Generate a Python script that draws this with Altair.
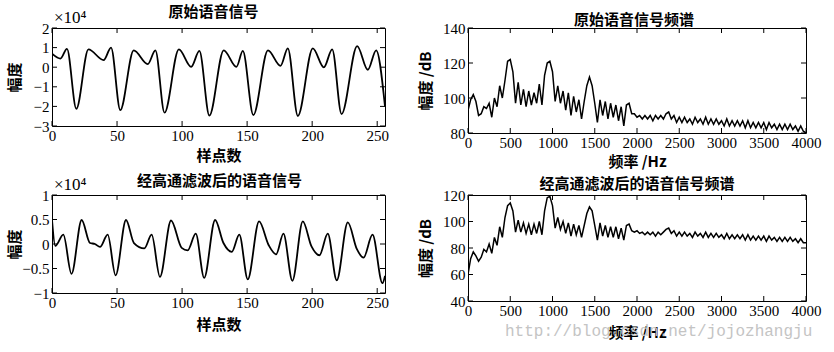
import altair as alt
import pandas as pd

# ---------------- data ----------------
# original speech signal (x1e4), key points
orig_n = [0, 6.5, 11.5, 18.7, 28, 39.7, 45.4, 52.5, 62.8, 73.6, 79.5, 86.5, 97.5, 107, 113.3,
          121, 132, 141.8, 146.7, 154.8, 166, 175.7, 181.3, 189, 200.5, 209, 215.4, 222.6,
          234.6, 242.8, 249.2, 256]
orig_v = [0.69, 0.44, 0.94, -2.12, 0.91, 0.36, 1.0, -2.19, 0.86, 0.16, 0.86, -2.32, 0.91, 0.02, 0.83,
          -2.47, 0.86, 0.02, 0.83, -2.44, 0.86, 0.07, 0.96, -2.49, 0.96, -0.01, 0.91, -2.39,
          1.08, -0.13, 0.86, -2.0]

# high-pass filtered speech signal (x1e4)
filt_n = [0, 2.5, 8.7, 15, 22.8, 29.2, 33, 36.9, 42.8, 48.9, 56.9, 63, 71, 76.6, 83, 91.5, 99.7,
          104.3, 110.5, 117, 125.4, 131.8, 138.2, 144, 150.5, 159.2, 166.5, 172.3, 177.9, 184.8,
          192.8, 199.5, 205.6, 212, 218.9, 227.4, 234.3, 239.5, 246.4, 254, 256]
filt_v = [0.5, -0.04, 0.19, -0.61, 0.49, 0.02, 0.0, -0.06, 0.19, -0.64, 0.49, 0.02, -0.09, 0.19,
          -0.67, 0.48, -0.08, -0.13, 0.21, -0.69, 0.49, 0.02, -0.16, 0.19, -0.72, 0.46, -0.02,
          -0.21, 0.21, -0.75, 0.46, -0.05, -0.23, 0.21, -0.74, 0.44, -0.1, -0.28, 0.19, -0.8, -0.65]

# spectra, one value per FFT bin (0 .. 4000 Hz)
spec_orig = [93, 99, 102, 98, 90, 91, 95, 94, 97, 89,
             100, 95, 107, 100, 110, 121, 122, 115, 97, 109,
             96, 105, 95, 104, 96, 103, 97, 108, 96, 113,
             120, 121, 115, 98, 107, 97, 104, 93, 103, 90,
             101, 92, 99, 88, 98, 107, 112, 107, 97, 86,
             99, 90, 98, 88, 97, 89, 96, 87, 95, 84,
             96, 97, 91, 91, 89, 90, 88, 90, 88, 90,
             87, 90, 88, 90, 88, 91, 92, 88, 90, 86,
             89, 86, 89, 86, 88, 85, 89, 86, 88, 85,
             89, 85, 88, 85, 88, 85, 87, 84, 88, 84,
             87, 84, 87, 84, 87, 83, 87, 83, 86, 83,
             86, 83, 86, 82, 86, 83, 85, 82, 85, 82,
             85, 82, 85, 82, 84, 81, 84, 81, 80]
spec_filt = [60, 72, 77, 74, 70, 73, 79, 77, 83, 76,
             88, 82, 96, 88, 103, 112, 114, 108, 92, 101,
             92, 99, 91, 98, 90, 98, 91, 100, 90, 108,
             118, 119, 112, 95, 103, 94, 100, 91, 99, 89,
             98, 90, 97, 88, 97, 106, 111, 108, 97, 86,
             99, 89, 97, 88, 96, 88, 96, 87, 95, 86,
             97, 98, 93, 92, 93, 91, 92, 90, 92, 90,
             92, 89, 92, 90, 92, 94, 95, 91, 93, 89,
             92, 89, 92, 89, 91, 88, 92, 89, 91, 88,
             92, 88, 91, 88, 91, 88, 90, 87, 91, 87,
             90, 87, 90, 87, 90, 86, 90, 86, 89, 86,
             89, 86, 89, 85, 89, 86, 88, 85, 88, 85,
             88, 85, 88, 85, 87, 84, 87, 84, 84]
freq_hz = [k * 31.25 for k in range(len(spec_orig))]

time_ticks = [0, 50, 100, 150, 200, 250]
freq_ticks = [0, 500, 1000, 1500, 2000, 2500, 3000, 3500, 4000]
orig_yticks = [-3, -2, -1, 0, 1, 2]
filt_yticks = [-1, -0.5, 0, 0.5, 1]
spec1_yticks = [80, 100, 120, 140]
spec2_yticks = [40, 60, 80, 100, 120]

SERIF = "Liberation Serif"
CJK = "Noto Sans CJK SC"


def panel(xs, ys, xdom, ydom, xticks, yticks, w, h, title, tdx, tdy, xtitle, ytitle,
          ytx, xty, sw, interp, mult=False, mark=None):
    df = pd.DataFrame({"x": xs, "y": ys})
    xsc = alt.Scale(domain=xdom, nice=False, zero=False)
    ysc = alt.Scale(domain=ydom, nice=False, zero=False)
    xax = alt.Axis(
        values=xticks, ticks=False, domain=False, grid=False, labelOverlap=False,
        format="~f", labelFont=SERIF, labelFontSize=15, labelColor="black", labelPadding=2,
        labelFlush=False, title=xtitle, titleFont=CJK, titleFontSize=15,
        titleFontWeight="bold", titleColor="black", titleY=xty, titleBaseline="middle")
    yax = alt.Axis(
        values=yticks, ticks=False, domain=False, grid=False, labelOverlap=False,
        format="~f", labelFont=SERIF, labelFontSize=15, labelColor="black", labelPadding=3,
        labelFlush=False, title=ytitle, titleFont=CJK, titleFontSize=15,
        titleFontWeight="bold", titleColor="black", titleX=ytx, titleBaseline="middle")
    line = alt.Chart(df).mark_line(color="black", strokeWidth=sw,
                                   interpolate=interp, clip=True).encode(
        x=alt.X("x:Q", scale=xsc, axis=xax),
        y=alt.Y("y:Q", scale=ysc, axis=yax),
    )
    xt = pd.DataFrame({"x": xticks})
    yt = pd.DataFrame({"y": yticks})
    tl = 5
    bot = alt.Chart(xt).mark_rule(color="black", strokeWidth=1).encode(
        x=alt.X("x:Q", scale=xsc, axis=xax), y=alt.value(h), y2=alt.value(h - tl))
    top = alt.Chart(xt).mark_rule(color="black", strokeWidth=1).encode(
        x=alt.X("x:Q", scale=xsc, axis=xax), y=alt.value(0), y2=alt.value(tl))
    left = alt.Chart(yt).mark_rule(color="black", strokeWidth=1).encode(
        y=alt.Y("y:Q", scale=ysc, axis=yax), x=alt.value(0), x2=alt.value(tl))
    right = alt.Chart(yt).mark_rule(color="black", strokeWidth=1).encode(
        y=alt.Y("y:Q", scale=ysc, axis=yax), x=alt.value(w), x2=alt.value(w - tl))
    ttl = alt.Chart(pd.DataFrame({"s": [title]})).mark_text(
        font=CJK, fontSize=15, fontWeight="bold", color="black", align="center",
        baseline="middle").encode(text="s:N", x=alt.value(w / 2 + tdx), y=alt.value(tdy))
    layers = [line, bot, top, left, right, ttl]
    if mult:
        m = alt.Chart(pd.DataFrame({"s": ["×10⁴"]})).mark_text(
            font=SERIF, fontSize=17, color="black", align="left", baseline="bottom").encode(
            text="s:N", x=alt.value(2), y=alt.value(-1))
        layers.append(m)
    if mark is not None:
        layers.append(mark)
    return alt.layer(*layers).properties(width=w, height=h)


wm = alt.Chart(pd.DataFrame({"s": ["http://blog.csdn.net/jojozhangju"]})).mark_text(
    font="Liberation Mono", fontSize=16, color="#c4c4c4", align="left",
    baseline="middle").encode(text="s:N", x=alt.value(37), y=alt.value(136))

p1 = panel(orig_n, orig_v, [0, 256], [-3, 2], time_ticks, orig_yticks, 333, 98,
           "原始语音信号", -5, -16, "样点数", "幅度", -38, 29, 1.8, "monotone", mult=True)
p2 = panel(filt_n, filt_v, [0, 256], [-1, 1], time_ticks, filt_yticks, 333, 98,
           "经高通滤波后的语音信号", 1, -14, "样点数", "幅度", -38, 31, 1.8, "monotone", mult=True)
p3 = panel(freq_hz, spec_orig, [0, 4000], [80, 140], freq_ticks, spec1_yticks, 338, 105,
           "原始语音信号频谱", -3, -8, "频率 /Hz", "幅度 /dB", -43, 28, 1.5, "linear")
p4 = panel(freq_hz, spec_filt, [0, 4000], [40, 120], freq_ticks, spec2_yticks, 338, 106,
           "经高通滤波后的语音信号频谱", 0, -11, "频率 /Hz", "幅度 /dB", -43, 31, 1.5, "linear",
           mark=wm)

chart = alt.concat(p1, p3, p2, p4, columns=2, bounds="flush",
                   spacing=alt.RowColnumber(row=62, column=83)).properties(
    padding={"left": 6, "top": 4, "right": 0, "bottom": 0},
    background="white",
).configure_view(stroke="black", strokeWidth=1)

chart.save("out.html", embed_options={"renderer": "svg", "actions": False})
